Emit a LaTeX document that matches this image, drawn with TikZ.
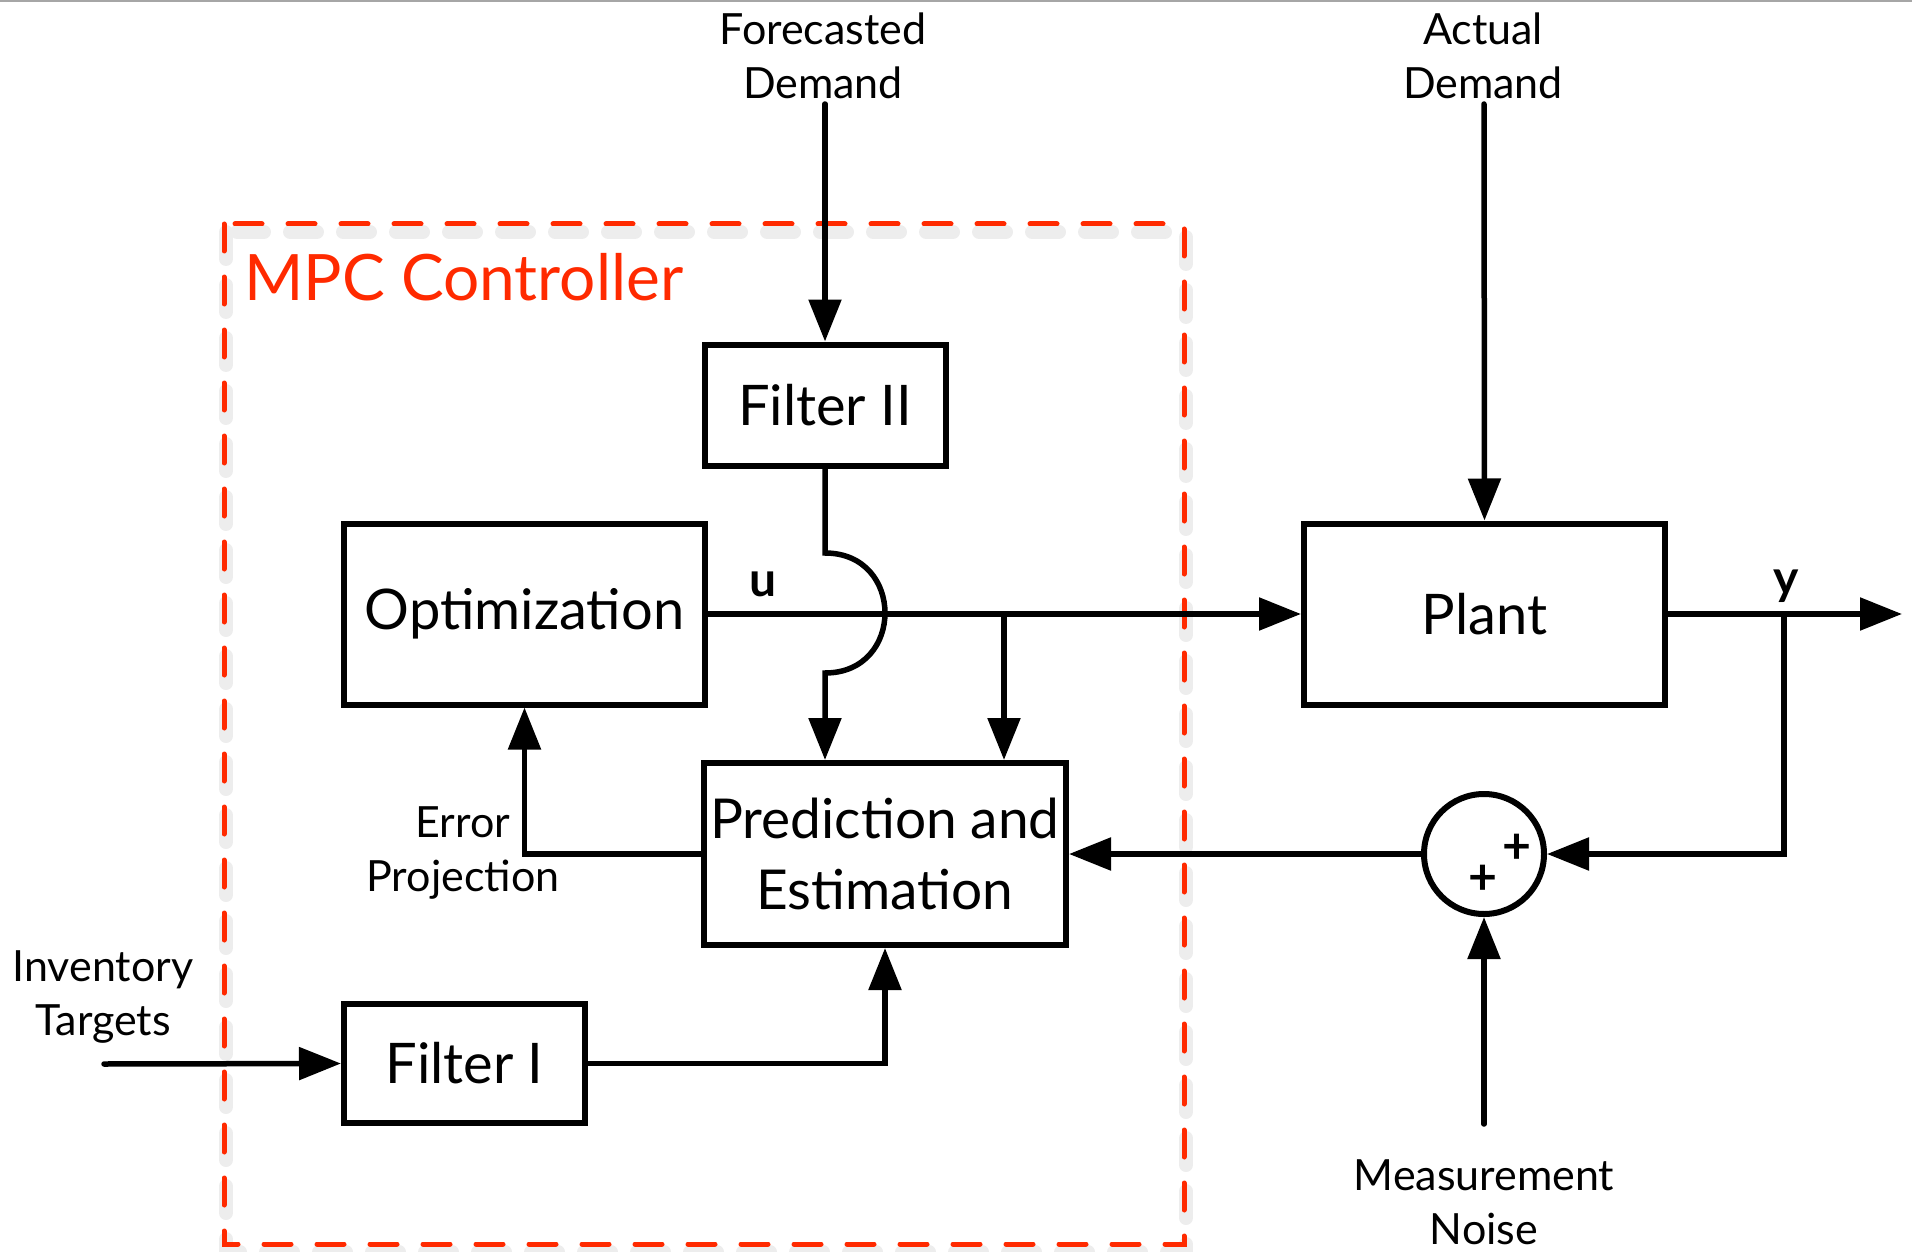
\documentclass[tikz,border=0pt]{standalone}
\usepackage{fontspec}
\setmainfont{Lato}
\usetikzlibrary{arrows.meta}
\definecolor{mpcred}{HTML}{FF2A00}
\begin{document}
\begin{tikzpicture}[x=1pt,y=-1pt,
  box/.style={draw, line width=6pt, inner sep=0pt, align=center, font=\fontsize{56}{71}\selectfont},
  lbl/.style={align=center, inner sep=0pt, font=\fontsize{43}{54}\selectfont},
  conn/.style={line width=5.5pt, line cap=round},
  arr/.style={conn, -{Triangle[length=42pt,width=32pt]}},
  plus/.style={inner sep=0pt, font=\fontsize{50}{50}\bfseries\selectfont},
  sig/.style={inner sep=0pt, font=\fontsize{48}{48}\bfseries\selectfont},
  mpcdash/.style={draw=mpcred, line width=5pt, line cap=round, dash pattern=on 27pt off 26pt},
  shadowdash/.style={draw=black, line width=14pt, opacity=0.07, dash pattern=on 27pt off 26pt, line cap=round}
]
\useasboundingbox (0,0) rectangle (1912,1252);
\draw[gray!70, line width=2pt] (0,1) -- (1912,1);

% MPC controller frame
\draw[shadowdash] (226,232) rectangle (1186,1252);
\draw[mpcdash] (224,224) rectangle (1184,1244);
\node[anchor=base west, inner sep=0pt, text=mpcred, font=\fontsize{64}{70}\selectfont] (mpc) at (244,300) {MPC Controller};

% blocks
\node[box, minimum width=241pt, minimum height=121pt] (f2) at (825,405) {Filter II};
\node[box, minimum width=361pt, minimum height=181pt] (opt) at (524.5,614) {Optimization};
\node[box, minimum width=361pt, minimum height=181pt] (plant) at (1484.5,614) {Plant};
\node[box, minimum width=362pt, minimum height=182pt, font=\fontsize{55}{71}\selectfont] (pred) at (885,854) {Prediction and\\Estimation};
\node[box, minimum width=241pt, minimum height=119pt] (f1) at (464.5,1063.5) {Filter I};
\node[circle, draw, line width=6pt, minimum size=120pt, inner sep=0pt] (sum) at (1484,854) {};
\node[plus] (p1) at (1517,849) {+};
\node[plus] (p2) at (1483,880) {+};

% labels
\node[lbl] (fd) at (823,56) {Forecasted\\Demand};
\node[lbl] (ad) at (1483,56) {Actual\\Demand};
\node[lbl] (ep) at (463,853) {Error\\Projection};
\node[lbl] (it) at (103,997) {Inventory\\Targets};
\node[lbl] (mn) at (1484,1202) {Measurement\\Noise};
\node[sig] (ulbl) at (763,584) {u};
\node[sig] (ylbl) at (1786,586) {y};

% free ends
\coordinate (fdtop) at (825,104);
\coordinate (adtop) at (1484,104);
\coordinate (br) at (1004,614);
\coordinate (ybr) at (1784,614);
\coordinate (ycorner) at (1784,854);
\coordinate (yend) at (1902,614);
\coordinate (noise) at (1484,1124);
\coordinate (inv) at (104,1064);
\coordinate (jtop) at (825,553);
\coordinate (jbot) at (825,673);

% connectors
\draw[arr] (fdtop) -- (f2.north);
\draw[arr] (adtop) -- (plant.north);
\draw[arr] (opt.east) -- (plant.west);
\draw[arr] (f2.south) -- (jtop) .. controls (905,553) and (905,673) .. (jbot) -- (jbot |- pred.north);
\draw[arr] (br) -- (br |- pred.north);
\draw[arr] (plant.east) -- (yend);
\draw[arr] (ybr) -- (ycorner) -- (sum.east);
\draw[arr] (sum.west) -- (pred.east);
\draw[arr] (noise) -- (sum.south);
\draw[arr] (pred.west) -| (opt.south);
\draw[arr] (inv) -- (f1.west);
\draw[arr] (f1.east) -| (pred.south);
\end{tikzpicture}
\end{document}
